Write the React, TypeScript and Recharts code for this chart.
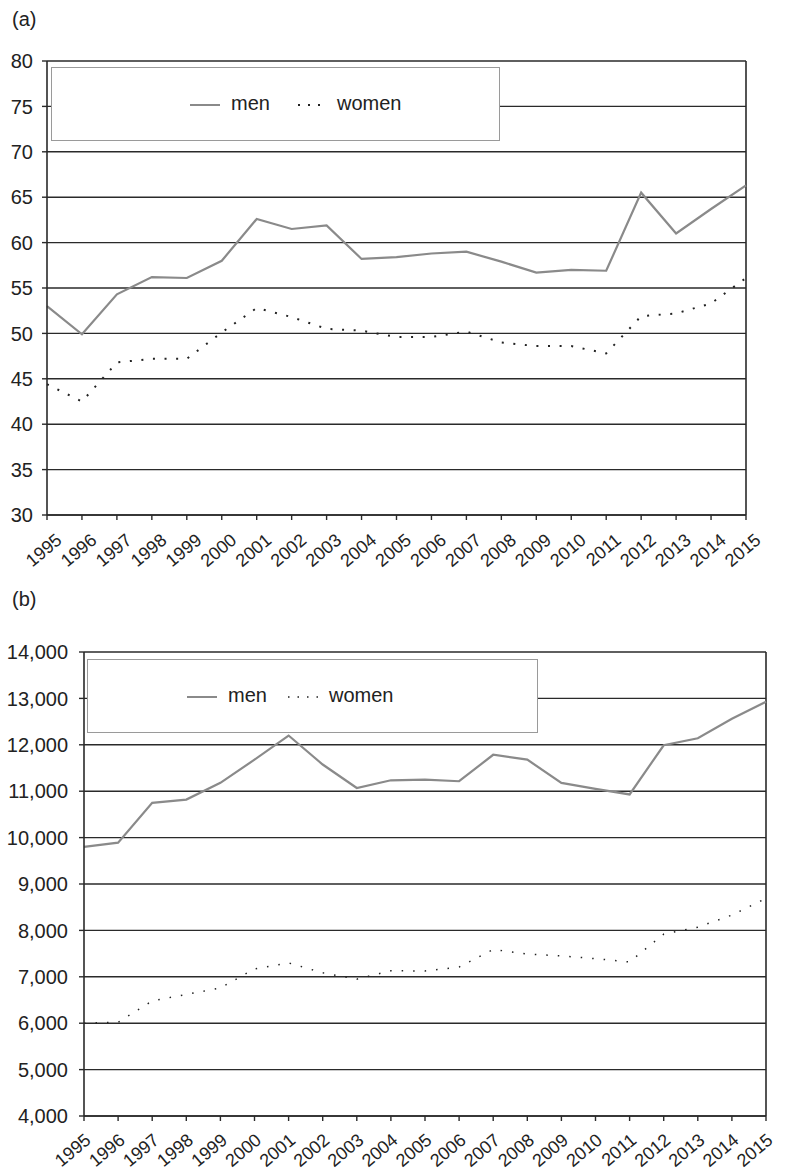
import React from "react";
import { LineChart, Line, XAxis, YAxis, CartesianGrid, Legend, ReferenceLine } from "recharts";

const years = ["1995","1996","1997","1998","1999","2000","2001","2002","2003","2004","2005","2006","2007","2008","2009","2010","2011","2012","2013","2014","2015"];

const menA = [53.0, 49.9, 54.3, 56.2, 56.1, 58.0, 62.6, 61.5, 61.9, 58.2, 58.4, 58.8, 59.0, 57.9, 56.7, 57.0, 56.9, 65.5, 61.0, 63.7, 66.3];
const womenA = [44.4, 42.5, 46.8, 47.2, 47.2, 50.1, 52.8, 51.8, 50.5, 50.3, 49.6, 49.6, 50.2, 49.0, 48.6, 48.6, 47.8, 51.9, 52.2, 53.3, 56.1];

const menB = [9800, 9890, 10750, 10820, 11180, 11680, 12200, 11575, 11070, 11235, 11250, 11215, 11785, 11680, 11180, 11050, 10930, 11990, 12140, 12560, 12930];
const womenB = [6000, 6020, 6480, 6620, 6760, 7170, 7300, 7085, 6950, 7130, 7125, 7210, 7590, 7490, 7450, 7390, 7320, 7920, 8070, 8330, 8690];

const ticksA = [30, 35, 40, 45, 50, 55, 60, 65, 70, 75, 80];
const ticksB = [4000, 5000, 6000, 7000, 8000, 9000, 10000, 11000, 12000, 13000, 14000];

const dataA = years.map((y, i) => ({ year: y, men: menA[i], women: womenA[i] }));
const dataB = years.map((y, i) => ({ year: y, men: menB[i], women: womenB[i] }));

const FONT = "'Liberation Sans', Arial, Helvetica, sans-serif";
const TXT = "#222";
const GRID = "#2a2a2a";
const MEN = "#8a8a8a";
const FS = 20;

const makeXTick = (dx: number, dy: number) => (props: any) => {
  const { x, y, payload } = props;
  const px = x + dx;
  const py = y + dy;
  return (
    <text x={px} y={py} textAnchor="end" fontSize={18} fill={TXT} fontFamily={FONT} transform={`rotate(-40, ${px}, ${py})`}>
      {payload.value}
    </text>
  );
};

const makeLegend = (w: number, h: number, lineX: number, menX: number, dotX: number, womenX: number, dotW: number) => () => (
  <div style={{ position: "relative", width: w, height: h, border: "1.5px solid #9a9a9a", boxSizing: "border-box", background: "#fff", fontFamily: FONT, fontSize: FS, color: TXT }}>
    <svg style={{ position: "absolute", left: lineX, top: h / 2 - 5 }} width={32} height={10}>
      <line x1={0} y1={5} x2={30} y2={5} stroke={MEN} strokeWidth={2} />
    </svg>
    <span style={{ position: "absolute", left: menX, top: 0, lineHeight: `${h - 4}px` }}>men</span>
    <svg style={{ position: "absolute", left: dotX, top: h / 2 - 5 }} width={32} height={10}>
      <line x1={0} y1={5} x2={30} y2={5} stroke="#222" strokeWidth={dotW} strokeDasharray={`${dotW} 8`} />
    </svg>
    <span style={{ position: "absolute", left: womenX, top: 0, lineHeight: `${h - 4}px` }}>women</span>
  </div>
);

const yTickStyle = { fontSize: FS, fill: TXT, fontFamily: FONT };

export default function App() {
  return (
    <div style={{ position: "absolute", left: 0, top: 0, width: 793, height: 1174, background: "#fff", fontFamily: FONT }}>
      <div style={{ position: "absolute", left: 12, top: 8, fontSize: FS, color: TXT }}>(a)</div>
      <div style={{ position: "absolute", left: 0, top: 0 }}>
        <LineChart width={793} height={580} data={dataA} margin={{ top: 61, right: 47, left: 0, bottom: 5 }}>
          <CartesianGrid vertical={false} stroke={GRID} strokeWidth={1.4} />
          <XAxis
            dataKey="year"
            interval={0}
            height={60}
            tickSize={5}
            tickMargin={0}
            axisLine={{ stroke: GRID, strokeWidth: 1.6 }}
            tickLine={{ stroke: GRID, strokeWidth: 1.4 }}
            tick={makeXTick(16, 22)}
          />
          <YAxis
            width={47}
            domain={[30, 80]}
            ticks={ticksA}
            interval={0}
            tickSize={5}
            tickMargin={9}
            axisLine={{ stroke: GRID, strokeWidth: 1.6 }}
            tickLine={{ stroke: GRID, strokeWidth: 1.4 }}
            tick={yTickStyle}
          />
          <ReferenceLine x="2015" stroke={GRID} strokeWidth={1.6} />
          <Legend
            layout="vertical"
            align="center"
            verticalAlign="middle"
            wrapperStyle={{ left: 51, top: 67, width: 449, height: 74 }}
            content={makeLegend(449, 74, 138, 179, 246, 285, 2)}
          />
          <Line type="linear" dataKey="men" stroke={MEN} strokeWidth={2.2} dot={false} isAnimationActive={false} />
          <Line type="linear" dataKey="women" stroke="#222" strokeWidth={2} strokeDasharray="2 9.6" dot={false} isAnimationActive={false} />
        </LineChart>
      </div>

      <div style={{ position: "absolute", left: 12, top: 588, fontSize: FS, color: TXT }}>(b)</div>
      <div style={{ position: "absolute", left: 0, top: 600 }}>
        <LineChart width={793} height={574} data={dataB} margin={{ top: 52, right: 27, left: 0, bottom: 3 }}>
          <CartesianGrid vertical={false} stroke={GRID} strokeWidth={1.4} />
          <XAxis
            dataKey="year"
            interval={0}
            height={55}
            tickSize={5}
            tickMargin={0}
            axisLine={{ stroke: GRID, strokeWidth: 1.6 }}
            tickLine={{ stroke: GRID, strokeWidth: 1.4 }}
            tick={makeXTick(8, 21)}
          />
          <YAxis
            width={84}
            domain={[4000, 14000]}
            ticks={ticksB}
            interval={0}
            tickSize={5}
            tickMargin={11}
            tickFormatter={(v: number) => v.toLocaleString("en-US")}
            axisLine={{ stroke: GRID, strokeWidth: 1.6 }}
            tickLine={{ stroke: GRID, strokeWidth: 1.4 }}
            tick={yTickStyle}
          />
          <ReferenceLine x="2015" stroke={GRID} strokeWidth={1.6} />
          <Legend
            layout="vertical"
            align="center"
            verticalAlign="middle"
            wrapperStyle={{ left: 87, top: 59, width: 451, height: 74 }}
            content={makeLegend(451, 74, 99, 140, 200, 241, 1.5)}
          />
          <Line type="linear" dataKey="men" stroke={MEN} strokeWidth={2.2} dot={false} isAnimationActive={false} />
          <Line type="linear" dataKey="women" stroke="#222" strokeWidth={1.5} strokeDasharray="1.5 10" dot={false} isAnimationActive={false} />
        </LineChart>
      </div>
    </div>
  );
}
